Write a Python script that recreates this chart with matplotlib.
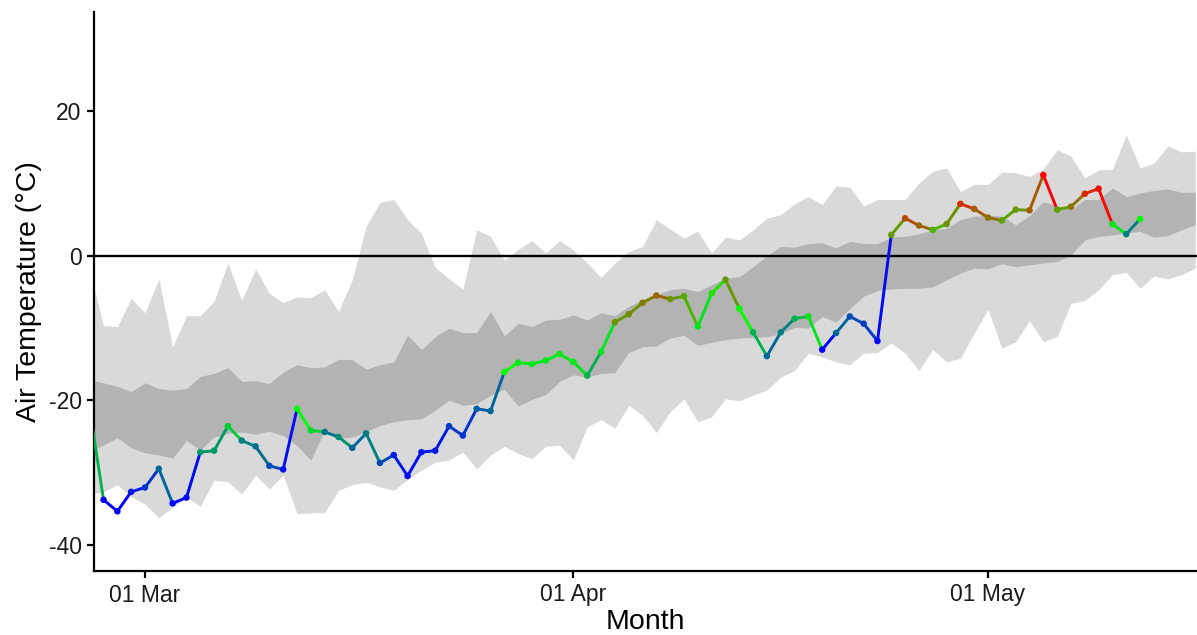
import numpy as np
import pandas as pd
import matplotlib
matplotlib.use("Agg")
import matplotlib.pyplot as plt
import matplotlib.dates as mdates
from matplotlib.collections import LineCollection
from matplotlib.colors import LinearSegmentedColormap

plt.rcParams['font.family'] = ['Liberation Sans', 'DejaVu Sans']
plt.rcParams['axes.unicode_minus'] = False

# ---------------- data ----------------
band_start = "2023-02-25"
# outer (light) band upper / lower, inner (dark) band upper / lower, daily from Feb 25
outer_upper = [-1.9, -9.7, -9.8, -5.9, -7.9, -3.2, -12.6, -8.3, -8.3, -6.3,
               -1.0, -6.2, -1.8, -5.2, -6.5, -5.7, -5.8, -4.7, -7.7, -3.3,
               4.1, 7.4, 7.8, 5.0, 3.1, -1.6, -3.2, -4.6, 3.6, 2.7,
               -0.6, 0.9, 2.1, 0.4, 2.1, 0.8, -1.0, -3.0, -1.0, 0.6,
               1.3, 5.0, 3.7, 2.45, 3.4, 0.4, 2.6, 2.2, 3.6, 5.2,
               5.7, 7.2, 8.2, 7.1, 9.7, 9.5, 6.9, 7.8, 7.8, 7.8,
               10.1, 11.7, 12.2, 8.9, 9.9, 9.9, 11.6, 11.5, 11.0, 12.0,
               14.7, 13.8, 10.8, 11.9, 12.0, 16.7, 12.2, 12.8, 15.2, 14.4,
               14.5]
inner_upper = [-17.2, -17.6, -18.1, -18.8, -17.6, -18.4, -18.6, -18.4, -16.7, -16.3,
               -15.5, -17.4, -17.3, -17.7, -16.1, -15.1, -15.5, -15.4, -14.35, -14.4,
               -15.7, -15.1, -14.7, -11.0, -13.0, -11.2, -10.05, -10.65, -10.65, -7.7,
               -11.1, -9.35, -9.8, -8.9, -8.8, -8.2, -8.9, -7.9, -8.3, -7.0,
               -6.1, -5.4, -4.7, -4.5, -4.95, -4.0, -3.1, -2.9, -1.5, 0.0,
               1.3, 1.2, 1.7, 1.8, 1.1, 2.0, 1.7, 1.7, 2.6, 2.7,
               3.05, 3.6, 3.8, 5.0, 5.5, 5.6, 5.5, 4.3, 5.56, 7.5,
               6.9, 6.4, 7.8, 7.8, 9.4, 8.2, 8.7, 9.07, 9.26, 8.8,
               8.8]
inner_lower = [-27.1, -26.2, -25.2, -26.6, -27.3, -27.6, -28.0, -25.6, -26.9, -25.1,
               -24.6, -24.4, -24.7, -24.3, -24.9, -26.3, -28.3, -24.2, -25.3, -25.1,
               -24.4, -23.5, -23.0, -22.7, -22.6, -21.4, -20.0, -20.7, -20.5, -19.3,
               -18.5, -20.8, -19.9, -19.2, -17.4, -16.5, -16.8, -16.3, -16.2, -13.4,
               -12.6, -12.5, -11.4, -11.0, -12.4, -12.0, -11.6, -11.4, -11.3, -11.2,
               -10.8, -9.9, -10.0, -8.4, -9.2, -7.3, -5.6, -4.8, -4.6, -4.5,
               -4.5, -4.3, -3.3, -2.4, -1.7, -1.8, -1.1, -1.5, -1.25, -1.0,
               -0.8, 0.1, 2.2, 2.7, 2.9, 3.15, 3.4, 2.6, 2.8, 3.6,
               4.3]
outer_lower = [-33.0, -32.7, -31.7, -33.4, -34.4, -36.3, -34.8, -33.4, -34.7, -31.1,
               -31.3, -33.0, -30.4, -32.3, -30.4, -35.7, -35.6, -35.6, -32.5, -31.7,
               -31.4, -32.0, -32.5, -31.0, -29.7, -28.6, -28.3, -27.2, -29.5, -27.6,
               -26.4, -27.4, -28.1, -26.4, -26.25, -28.3, -23.7, -22.7, -23.9, -20.7,
               -22.1, -24.5, -21.6, -19.8, -23.0, -22.3, -19.8, -20.1, -19.3, -18.6,
               -16.8, -15.9, -13.5, -14.0, -14.7, -15.1, -13.5, -13.4, -12.1, -13.5,
               -15.9, -13.0, -14.7, -14.2, -10.7, -7.4, -12.8, -11.9, -9.0, -11.9,
               -11.2, -6.6, -6.2, -4.7, -2.6, -2.3, -4.5, -2.8, -3.2, -2.6,
               -1.7]

obs_start = "2023-02-25"
obs_temp = [-21.3, -33.8, -35.4, -32.7, -32.1, -29.5, -34.3, -33.5, -27.2, -27.0,
            -23.6, -25.6, -26.4, -29.1, -29.6, -21.2, -24.2, -24.4, -25.1, -26.6,
            -24.6, -28.7, -27.6, -30.5, -27.2, -27.0, -23.6, -24.9, -21.2, -21.5,
            -16.1, -14.8, -15.0, -14.5, -13.6, -14.7, -16.6, -13.3, -9.2, -8.1,
            -6.5, -5.5, -6.0, -5.6, -9.8, -5.2, -3.3, -7.3, -10.6, -13.9,
            -10.6, -8.7, -8.4, -13.0, -10.7, -8.4, -9.4, -11.8, 2.9, 5.2,
            4.2, 3.6, 4.4, 7.2, 6.5, 5.3, 4.9, 6.4, 6.3, 11.2,
            6.4, 6.8, 8.6, 9.3, 4.4, 3.0, 5.1]
# relative rank of each day's value (0 = coldest, 1 = warmest)
obs_rank = [0.35, 0.0, 0.0, 0.05, 0.1, 0.2, 0.0, 0.02, 0.3, 0.3,
            0.4, 0.25, 0.22, 0.15, 0.03, 0.5, 0.42, 0.22, 0.28, 0.2,
            0.25, 0.15, 0.05, 0.02, 0.05, 0.05, 0.12, 0.1, 0.18, 0.2,
            0.5, 0.46, 0.46, 0.46, 0.46, 0.45, 0.35, 0.45, 0.7, 0.72,
            0.75, 0.8, 0.7, 0.65, 0.45, 0.55, 0.7, 0.5, 0.35, 0.2,
            0.25, 0.35, 0.45, 0.0, 0.2, 0.15, 0.12, 0.02, 0.7, 0.85,
            0.8, 0.65, 0.72, 0.9, 0.82, 0.78, 0.68, 0.7, 0.82, 1.0,
            0.68, 0.78, 0.92, 0.98, 0.45, 0.25, 0.5]

tick_dates = ["2023-03-01", "2023-04-01", "2023-05-01"]
y_ticks = [-40, -20, 0, 20]

# ---------------- derived ----------------
band_dates = pd.date_range(band_start, periods=len(outer_upper), freq="D")
obs_dates = pd.date_range(obs_start, periods=len(obs_temp), freq="D")
bx = mdates.date2num(band_dates)
ox = mdates.date2num(obs_dates)
oy = np.array(obs_temp)

cmap = LinearSegmentedColormap.from_list("bgr", ["#0000ff", "#00ff00", "#ff0000"])
cols = cmap(np.array(obs_rank))

# ---------------- figure ----------------
fig = plt.figure(figsize=(11.97, 6.35), dpi=100)
ax = fig.add_axes([94/1197, 1 - 571/635, 1 - 94/1197, (571 - 12)/635])

ax.fill_between(bx, outer_lower, outer_upper, color="#d9d9d9", lw=0, zorder=1)
ax.fill_between(bx, inner_lower, inner_upper, color="#b3b3b3", lw=0, zorder=2)
ax.axhline(0, color="black", lw=1.7, zorder=3)

pts = np.column_stack([ox, oy])
segs = np.stack([pts[:-1], pts[1:]], axis=1)
lc = LineCollection(segs, colors=cols[:-1], linewidths=2.1, zorder=4,
                    capstyle="round", joinstyle="round")
ax.add_collection(lc)
ax.scatter(ox, oy, s=22, c=cols, zorder=5, linewidths=0)

m1 = mdates.date2num(pd.Timestamp(tick_dates[0]))
ax.set_xlim(m1 - 3.69, m1 + 76.12)
ax.set_ylim(-43.67, 33.78)

ax.set_xticks(mdates.date2num(pd.to_datetime(tick_dates)))
ax.xaxis.set_major_formatter(mdates.DateFormatter("%d %b"))
ax.set_yticks(y_ticks)
ax.set_yticklabels([str(v) for v in y_ticks])

for s in ["top", "right"]:
    ax.spines[s].set_visible(False)
for s in ["left", "bottom"]:
    ax.spines[s].set_linewidth(1.6)
    ax.spines[s].set_color("black")
ax.tick_params(axis="both", length=5, width=1.6, color="black",
               labelsize=16.5, labelcolor="#1a1a1a", pad=4)

ax.set_xlabel("Month", fontsize=20.5, labelpad=2)
ax.set_ylabel("Air Temperature (°C)", fontsize=20.5, labelpad=5)

fig.savefig("out.png", dpi=100)
